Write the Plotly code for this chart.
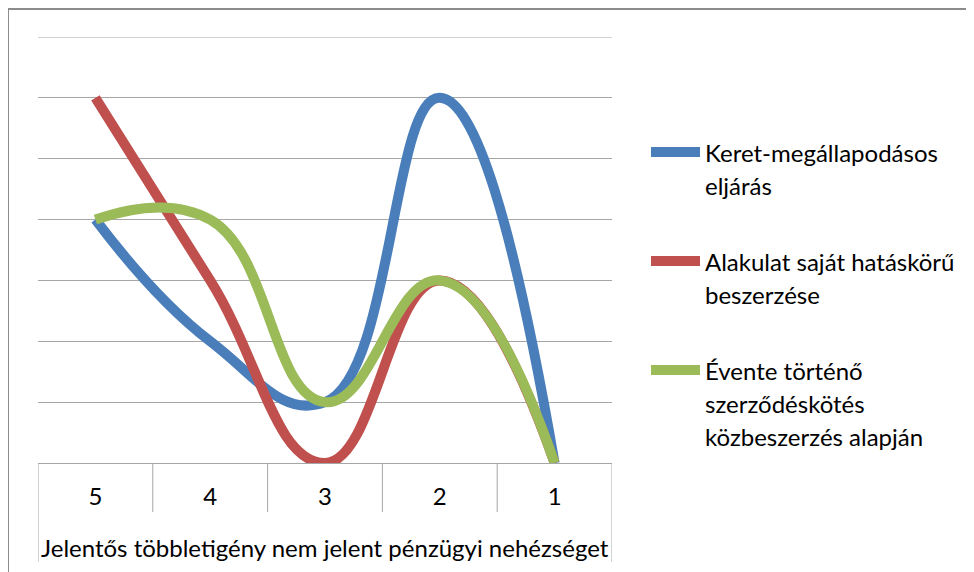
import plotly.graph_objects as go

# category axis (reversed scale 5 -> 1) and group label
categories = ["5", "4", "3", "2", "1"]
group_label = "Jelentős többletigény nem jelent pénzügyi nehézséget"

# series values
series_names = [
    "Keret-megállapodásos<br>eljárás",
    "Alakulat saját hatáskörű<br>beszerzése",
    "Évente történő<br>szerződéskötés<br>közbeszerzés alapján",
]
keret = [4, 2, 1, 6, 0]
alakulat = [6, 3, 0, 3, 0]
evente = [4, 4, 1, 3, 0]
series_values = [keret, alakulat, evente]
colors = ["#4A7EBB", "#C0504D", "#9BBB59"]

FONT = "Lato"
FS = 24
OFF = 8                       # page body margin shifts the figure by 8px
W, H = 974 - OFF, 572 - OFF
L, R, T, B = 38 - OFF, 612 - OFF, 37 - OFF, 463 - OFF   # plot area in figure px


def px(x):
    # x given in screenshot pixels
    return (x - OFF - L) / (R - L)


def py(y):
    return (B - (y - OFF)) / (B - T)


fig = go.Figure()

for name, vals, col in zip(series_names, series_values, colors):
    fig.add_trace(go.Scatter(
        x=categories, y=vals, mode="lines", name=name,
        line=dict(color=col, width=10, shape="spline", smoothing=1.3),
        showlegend=False,
    ))

shapes = []
# chart outer border (left and top visible)
shapes.append(dict(type="line", xref="paper", yref="paper",
                   x0=px(8), x1=px(8), y0=py(9), y1=py(600),
                   line=dict(color="#8c8c8c", width=2)))
shapes.append(dict(type="line", xref="paper", yref="paper",
                   x0=px(8), x1=px(1000), y0=py(9), y1=py(9),
                   line=dict(color="#8c8c8c", width=2)))
# top gridline (range end)
shapes.append(dict(type="line", xref="paper", yref="y",
                   x0=0, x1=1, y0=7, y1=7,
                   line=dict(color="#a6a6a6", width=1)))

# category separators below the axis
n = len(categories)
for i in range(n + 1):
    bottom = py(562) if i in (0, n) else py(512)
    shapes.append(dict(type="line", xref="x", yref="paper",
                       x0=i - 0.5, x1=i - 0.5, y0=0, y1=bottom,
                       line=dict(color="#a6a6a6", width=1)))

annotations = [dict(
    text=group_label, xref="paper", yref="paper",
    x=0.5, y=py(547), xanchor="center", yanchor="middle",
    showarrow=False, font=dict(family=FONT, size=FS, color="#000000"),
)]

# legend drawn by hand: sample line + wrapped text
legend_y = [152, 261, 370]
line_gap = 33
for name, col, ly in zip(series_names, colors, legend_y):
    shapes.append(dict(type="line", xref="paper", yref="paper",
                       x0=px(651), x1=px(700), y0=py(ly), y1=py(ly),
                       line=dict(color=col, width=10)))
    for k, part in enumerate(name.split("<br>")):
        annotations.append(dict(
            text=part, xref="paper", yref="paper",
            x=px(703), y=py(ly + k * line_gap), xanchor="left", yanchor="middle",
            showarrow=False, font=dict(family=FONT, size=FS, color="#000000"),
        ))

fig.update_layout(
    width=W, height=H,
    margin=dict(l=L, r=W - R, t=T, b=H - B, pad=0),
    paper_bgcolor="white", plot_bgcolor="white",
    font=dict(family=FONT, size=FS, color="#000000"),
    xaxis=dict(
        type="category", range=[-0.5, n - 0.5],
        showgrid=False, showline=True, linecolor="#a6a6a6", linewidth=1,
        ticks="", ticklabelstandoff=12, fixedrange=True,
        tickfont=dict(family=FONT, size=FS, color="#000000"),
    ),
    yaxis=dict(
        range=[0, 7], dtick=1, showticklabels=False, zeroline=False,
        showgrid=True, gridcolor="#a6a6a6", gridwidth=1, showline=False,
        fixedrange=True,
    ),
    shapes=shapes, annotations=annotations,
)

fig.write_html("out.html")
